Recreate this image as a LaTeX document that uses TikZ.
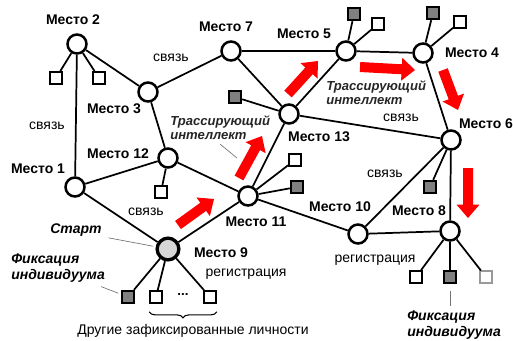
\documentclass[tikz,border=0pt]{standalone}
\usepackage{fontspec}
\setmainfont{Liberation Sans}
\usetikzlibrary{arrows.meta, positioning, calc, decorations.pathreplacing}
\definecolor{arrowRed}{RGB}{255,0,0}
\definecolor{boxGray}{RGB}{128,128,128}
\definecolor{startGray}{RGB}{215,215,215}
\tikzstyle{placenode} = [circle, draw=black, fill=white, line width=1.9pt, minimum size=14.25pt, inner sep=0pt]
\tikzstyle{startplace} = [placenode, fill=startGray, line width=2.5pt, minimum size=16.3pt]
\tikzstyle{person} = [rectangle, draw=black, fill=white, line width=1.3pt, minimum size=9pt, inner sep=0pt]
\tikzstyle{fixedperson} = [person, fill=boxGray, line width=1.8pt]
\tikzstyle{paleperson} = [person, draw=black!40, line width=0.8pt]
\tikzstyle{linkline} = [line width=1.3pt]
\tikzstyle{leaderline} = [line width=0.5pt, draw=black!55]
\tikzstyle{placelabel} = [font=\bfseries\fontsize{10.5}{12}\selectfont, inner sep=0pt]
\tikzstyle{linklabel} = [font=\fontsize{10.5}{12}\selectfont, inner sep=0pt]
\tikzstyle{annot} = [font=\bfseries\itshape\fontsize{10.5}{12}\selectfont, align=left, inner sep=0pt]
\tikzstyle{traceannot} = [font=\bfseries\itshape\fontsize{9.8}{10.5}\selectfont, align=left, inner sep=0pt, text=black!85]
\tikzstyle{groupbrace} = [decorate, decoration={brace, mirror, amplitude=4.5pt}, line width=0.8pt]
% filled red block arrow from tail #1 to tip #2
\newcommand{\traceArrow}[2]{%
  \coordinate (#1neck) at ($(#2)!10pt!(#1)$);
  \fill [arrowRed] ($(#1)!3.75pt!90:(#2)$) -- ($(#1neck)!3.75pt!90:(#2)$)
    -- ($(#1neck)!8.6pt!90:(#2)$) -- (#2) -- ($(#1neck)!8.6pt!-90:(#2)$)
    -- ($(#1neck)!3.75pt!-90:(#2)$) -- ($(#1)!3.75pt!-90:(#2)$) -- cycle;
}

\begin{document}
\begin{tikzpicture}[x=0.75pt, y=-0.75pt]
\useasboundingbox (0,0) rectangle (513,340);

% places
\node (m2) [placenode] at (77,44) {};
\node (m7) [placenode] at (231,51) {};
\node (m3) [placenode] at (148,92) {};
\node (m12) [placenode] at (168,158) {};
\node (m1) [placenode] at (75,187) {};
\node (m11) [placenode] at (248,196) {};
\node (m13) [placenode] at (289,114) {};
\node (m5) [placenode] at (346,51) {};
\node (m4) [placenode] at (423,53) {};
\node (m6) [placenode] at (451,140) {};
\node (m8) [placenode] at (450,231) {};
\node (m10) [placenode] at (358,234) {};
\node (m9) [startplace] at (168,249) {};

% individuals
\node (s2a) [person] at (56,78) {};
\node (s2b) [person] at (99,78) {};
\node (s5g) [fixedperson] at (354,14) {};
\node (s5w) [person] at (378,24) {};
\node (s4g) [fixedperson] at (433,13) {};
\node (s4w) [person] at (460,22) {};
\node (s13g) [fixedperson] at (235,97) {};
\node (s12w) [person] at (161,192) {};
\node (s11w) [person] at (295,160) {};
\node (s11g) [fixedperson] at (297,187) {};
\node (s6g) [fixedperson] at (430,187) {};
\node (s9g) [fixedperson] at (128,297) {};
\node (s9w1) [person] at (156,297) {};
\node (s9w2) [person] at (210,297) {};
\node (s8w) [person] at (416,277) {};
\node (s8g) [fixedperson] at (450,277) {};
\node (s8l) [paleperson] at (486,277) {};
\node (dots) [font=\bfseries] at (183,294) {...};

% links
\draw [linkline] (m2) -- (m1);
\draw [linkline] (m2) -- (m3);
\draw [linkline] (m3) -- (m7);
\draw [linkline] (m3) -- (m12);
\draw [linkline] (m7) -- (m5);
\draw [linkline] (m7) -- (m13);
\draw [linkline] (m5) -- (m4);
\draw [linkline] (m5) -- (m13);
\draw [linkline] (m4) -- (m6);
\draw [linkline] (m13) -- (m6);
\draw [linkline] (m13) -- (m11);
\draw [linkline] (m12) -- (m1);
\draw [linkline] (m12) -- (m11);
\draw [linkline] (m1) -- (m9);
\draw [linkline] (m9) -- (m11);
\draw [linkline] (m11) -- (m10);
\draw [linkline] (m10) -- (m8);
\draw [linkline] (m10) -- (m6);
\draw [linkline] (m6) -- (m8);

% registrations
\draw [linkline] (m2) -- (s2a);
\draw [linkline] (m2) -- (s2b);
\draw [linkline] (m5) -- (s5g);
\draw [linkline] (m5) -- (s5w);
\draw [linkline] (m4) -- (s4g);
\draw [linkline] (m4) -- (s4w);
\draw [linkline] (m13) -- (s13g);
\draw [linkline] (m12) -- (s12w);
\draw [linkline] (m11) -- (s11w);
\draw [linkline] (m11) -- (s11g);
\draw [linkline] (m6) -- (s6g);
\draw [linkline] (m9) -- (s9g);
\draw [linkline] (m9) -- (s9w1);
\draw [linkline] (m9) -- (s9w2);
\draw [linkline] (m8) -- (s8w);
\draw [linkline] (m8) -- (s8g);
\draw [linkline] (m8) -- (s8l);

% place names
\node (n2) [placelabel] at (73,20) {Место 2};
\node (n7) [placelabel] at (226,27) {Место 7};
\node (n3) [placelabel] at (114,109) {Место 3};
\node (n12) [placelabel] at (118,154) {Место 12};
\node (n1) [placelabel] at (38,169) {Место 1};
\node (n9) [placelabel] at (221,253) {Место 9};
\node (n11) [placelabel] at (256,222) {Место 11};
\node (n13) [placelabel] at (319,137) {Место 13};
\node (n5) [placelabel] at (304,34) {Место 5};
\node (n4) [placelabel] at (472,53) {Место 4};
\node (n6) [placelabel] at (486,124) {Место 6};
\node (n10) [placelabel] at (340,207) {Место 10};
\node (n8) [placelabel] at (419,211) {Место 8};

% link labels
\node (c1) [linklabel] at (171,58) {связь};
\node (c2) [linklabel] at (47,126) {связь};
\node (c3) [linklabel] at (146,212) {связь};
\node (c4) [linklabel] at (401,118) {связь};
\node (c5) [linklabel] at (385,174) {связь};
\node (r1) [linklabel] at (246,274) {регистрация};
\node (r2) [linklabel] at (375,260) {регистрация};

% annotations
\node (tr1) [traceannot, anchor=west] at (170,128) {Трассирующий\\интеллект};
\node (tr2) [traceannot, anchor=west] at (326,93) {Трассирующий\\интеллект};
\node (st) [annot] at (76,230) {Старт};
\node (fix1) [annot, anchor=west] at (11,268) {Фиксация\\индивидуума};
\node (fix2) [annot, anchor=west] at (407,325) {Фиксация\\индивидуума};
\node (others) [linklabel] at (193,331) {Другие зафиксированные личности};

\coordinate (tr1end) at (237,158);
\draw [leaderline] ([yshift=-3pt]tr1.south) -- (tr1end);
\draw [leaderline, shorten <=5pt, shorten >=2pt] (st.south east) -- (m9);
\draw [leaderline, shorten >=2pt] ([shift={(-4,4)}]fix1.south east) -- (s9g);
\draw [leaderline, shorten <=5pt, shorten >=3pt] (s8g.south) -- (s8g.south |- fix2.north);
\draw [groupbrace] ([yshift=-6pt]s9w1.south west) -- ([yshift=-6pt]s9w2.south east);

% tracing route
\foreach \i/\tx/\ty/\hx/\hy in {1/178/225/214/199, 2/239/178/262/136, 3/288/94/318/61,
    4/360/67/415/70, 5/443/70/458/110, 6/468/168/468/218} {
  \coordinate (t\i) at (\tx,\ty);
  \coordinate (h\i) at (\hx,\hy);
  \traceArrow{t\i}{h\i}
}
\end{tikzpicture}
\end{document}
